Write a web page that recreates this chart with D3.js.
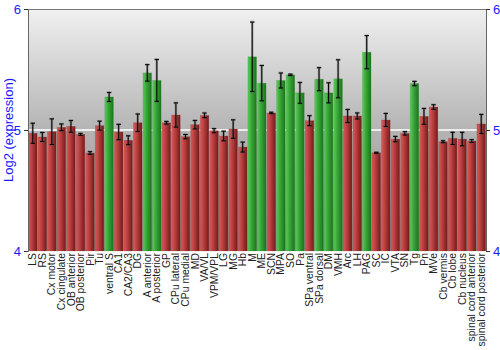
<!DOCTYPE html>
<html>
<head>
<meta charset="utf-8">
<script src="https://cdn.jsdelivr.net/npm/d3@7"></script>
<style>
  html, body { margin: 0; padding: 0; background: #fff; }
  svg { display: block; }
</style>
</head>
<body>
<svg id="chart" width="500" height="350"></svg>
<script>
// Brain regions
const categories = ["LS", "RS", "Cx motor", "Cx cingulate", "OB anterior", "OB posterior", "Pir", "Tu",
  "ventral S", "CA1", "CA2/CA3", "DG", "A anterior", "A posterior", "GP", "CPu lateral", "CPu medial",
  "MD", "VA/VL", "VPM/VPL", "LG", "MG", "Hb", "M", "ME", "SCN", "MPA", "SO", "Pa", "SPa ventral",
  "SPa dorsal", "DM", "VMH", "Arc", "LH", "PAG", "SC", "IC", "VTA", "SN", "Tg", "Pn", "MVe",
  "Cb vermis", "Cb lobe", "Cb nucleus", "spinal cord anterior", "spinal cord posterior"];

// Mean log2 expression per region
const values = [4.973, 4.942, 4.986, 5.022, 5.030, 4.964, 4.810, 5.036,
  5.273, 4.983, 4.915, 5.060, 5.472, 5.410, 5.060, 5.124, 4.945,
  5.044, 5.121, 4.994, 4.950, 5.008, 4.859, 5.605, 5.387, 5.141, 5.409, 5.456, 5.307, 5.077,
  5.420, 5.307, 5.423, 5.116, 5.116, 5.643, 4.812, 5.083, 4.925, 4.972, 5.384, 5.113, 5.190,
  4.903, 4.931, 4.925, 4.909, 5.050];

// Standard error per region
const errors = [0.083, 0.037, 0.106, 0.028, 0.048, 0.008, 0.011, 0.037,
  0.037, 0.064, 0.037, 0.072, 0.068, 0.173, 0.011, 0.100, 0.018,
  0.035, 0.019, 0.017, 0.040, 0.076, 0.041, 0.287, 0.146, 0.006, 0.062, 0.006, 0.086, 0.041,
  0.095, 0.083, 0.157, 0.054, 0.025, 0.137, 0.004, 0.054, 0.022, 0.014, 0.018, 0.065, 0.019,
  0.008, 0.050, 0.056, 0.011, 0.079];

const yTicks = [4, 5, 6];
const highThreshold = 5.25;

const svg = d3.select("#chart");
const margin = { top: 9, right: 14, bottom: 99, left: 28 };
const W = 500, H = 350;
const innerW = W - margin.left - margin.right;
const innerH = H - margin.top - margin.bottom;

const x = d3.scaleBand().domain(categories).range([margin.left, margin.left + innerW]).paddingInner(0.1).paddingOuter(0.05);
const y = d3.scaleLinear().domain([4, 6]).range([margin.top + innerH, margin.top]);

const defs = svg.append("defs");
const bg = defs.append("linearGradient").attr("id", "bgGrad").attr("x1", 0).attr("x2", 0).attr("y1", 0).attr("y2", 1);
bg.append("stop").attr("offset", "0%").attr("stop-color", "#f0f0f0");
bg.append("stop").attr("offset", "50%").attr("stop-color", "#b4b4b4");
bg.append("stop").attr("offset", "100%").attr("stop-color", "#8c8c8c");

function barGrad(id, c0, c1, c2) {
  const g = defs.append("linearGradient").attr("id", id).attr("x1", 0).attr("x2", 1).attr("y1", 0).attr("y2", 0);
  g.append("stop").attr("offset", "0%").attr("stop-color", c0);
  g.append("stop").attr("offset", "35%").attr("stop-color", c1);
  g.append("stop").attr("offset", "100%").attr("stop-color", c2);
}
barGrad("redGrad", "#d35a5a", "#bf4242", "#731a1a");
barGrad("greenGrad", "#5ccb5c", "#3cab3c", "#1a741a");

// Plot background
svg.append("rect")
  .attr("x", margin.left).attr("y", margin.top)
  .attr("width", innerW).attr("height", innerH)
  .attr("fill", "url(#bgGrad)");

// Top border
svg.append("line")
  .attr("x1", margin.left).attr("x2", margin.left + innerW)
  .attr("y1", margin.top + 0.5).attr("y2", margin.top + 0.5)
  .attr("stroke", "#777").attr("stroke-width", 1);

// Reference line at 5
svg.append("line")
  .attr("x1", margin.left).attr("x2", margin.left + innerW)
  .attr("y1", y(5)).attr("y2", y(5))
  .attr("stroke", "#ffffff").attr("stroke-width", 1.5);

const rows = categories.map((c, i) => ({ c, v: values[i], e: errors[i] }));

// Bars
svg.append("g").selectAll("rect").data(rows).join("rect")
  .attr("x", d => x(d.c))
  .attr("y", d => y(d.v))
  .attr("width", x.bandwidth())
  .attr("height", d => y(4) - y(d.v))
  .attr("fill", d => d.v > highThreshold ? "url(#greenGrad)" : "url(#redGrad)")
  .attr("stroke", d => d.v > highThreshold ? "#2f8f2f" : "#8e3030")
  .attr("stroke-opacity", 0.35)
  .attr("stroke-width", 0.6);

// Error bars
const eg = svg.append("g");
const capW = 2.2;
rows.forEach(d => {
  const cx = x(d.c) + x.bandwidth() / 2;
  const y0 = y(d.v - d.e), y1 = y(d.v + d.e);
  const paths = `M${cx},${y0}L${cx},${y1}M${cx - capW},${y0}L${cx + capW},${y0}M${cx - capW},${y1}L${cx + capW},${y1}`;
  eg.append("path").attr("d", paths).attr("stroke", "#555").attr("stroke-opacity", 0.45).attr("stroke-width", 2.4).attr("fill", "none");
  eg.append("path").attr("d", paths).attr("stroke", "#000").attr("stroke-width", 1).attr("fill", "none");
});

// Axes
const leftAxis = d3.axisLeft(y).tickValues(yTicks).tickFormat(d3.format("d")).tickSize(4).tickPadding(3);
const rightAxis = d3.axisRight(y).tickValues(yTicks).tickFormat(d3.format("d")).tickSize(4).tickPadding(3);

const gl = svg.append("g").attr("transform", `translate(${margin.left},0)`).call(leftAxis);
const gr = svg.append("g").attr("transform", `translate(${margin.left + innerW},0)`).call(rightAxis);
[gl, gr].forEach(g => {
  g.select(".domain").attr("stroke", "#666");
  g.selectAll(".tick line").attr("stroke", "#333");
  g.selectAll(".tick text").attr("fill", "#1a1aff")
    .style("font-family", "'Liberation Sans', Arial, sans-serif").style("font-size", "13px");
});

// Category labels
svg.append("g").selectAll("text").data(categories).join("text")
  .attr("transform", d => `translate(${x(d) + x.bandwidth() / 2 + 3.6},${margin.top + innerH + 2}) rotate(-90)`)
  .attr("text-anchor", "end")
  .attr("fill", "#222")
  .style("font-family", "'Liberation Sans', Arial, sans-serif")
  .style("font-size", "10.4px")
  .text(d => d);

// Y axis title
svg.append("text")
  .attr("transform", `translate(13,${margin.top + innerH / 2}) rotate(-90)`)
  .attr("text-anchor", "middle")
  .attr("fill", "#1a1aff")
  .style("font-family", "'Liberation Sans', Arial, sans-serif")
  .style("font-size", "13px")
  .text("Log2 (expression)");
</script>
</body>
</html>
